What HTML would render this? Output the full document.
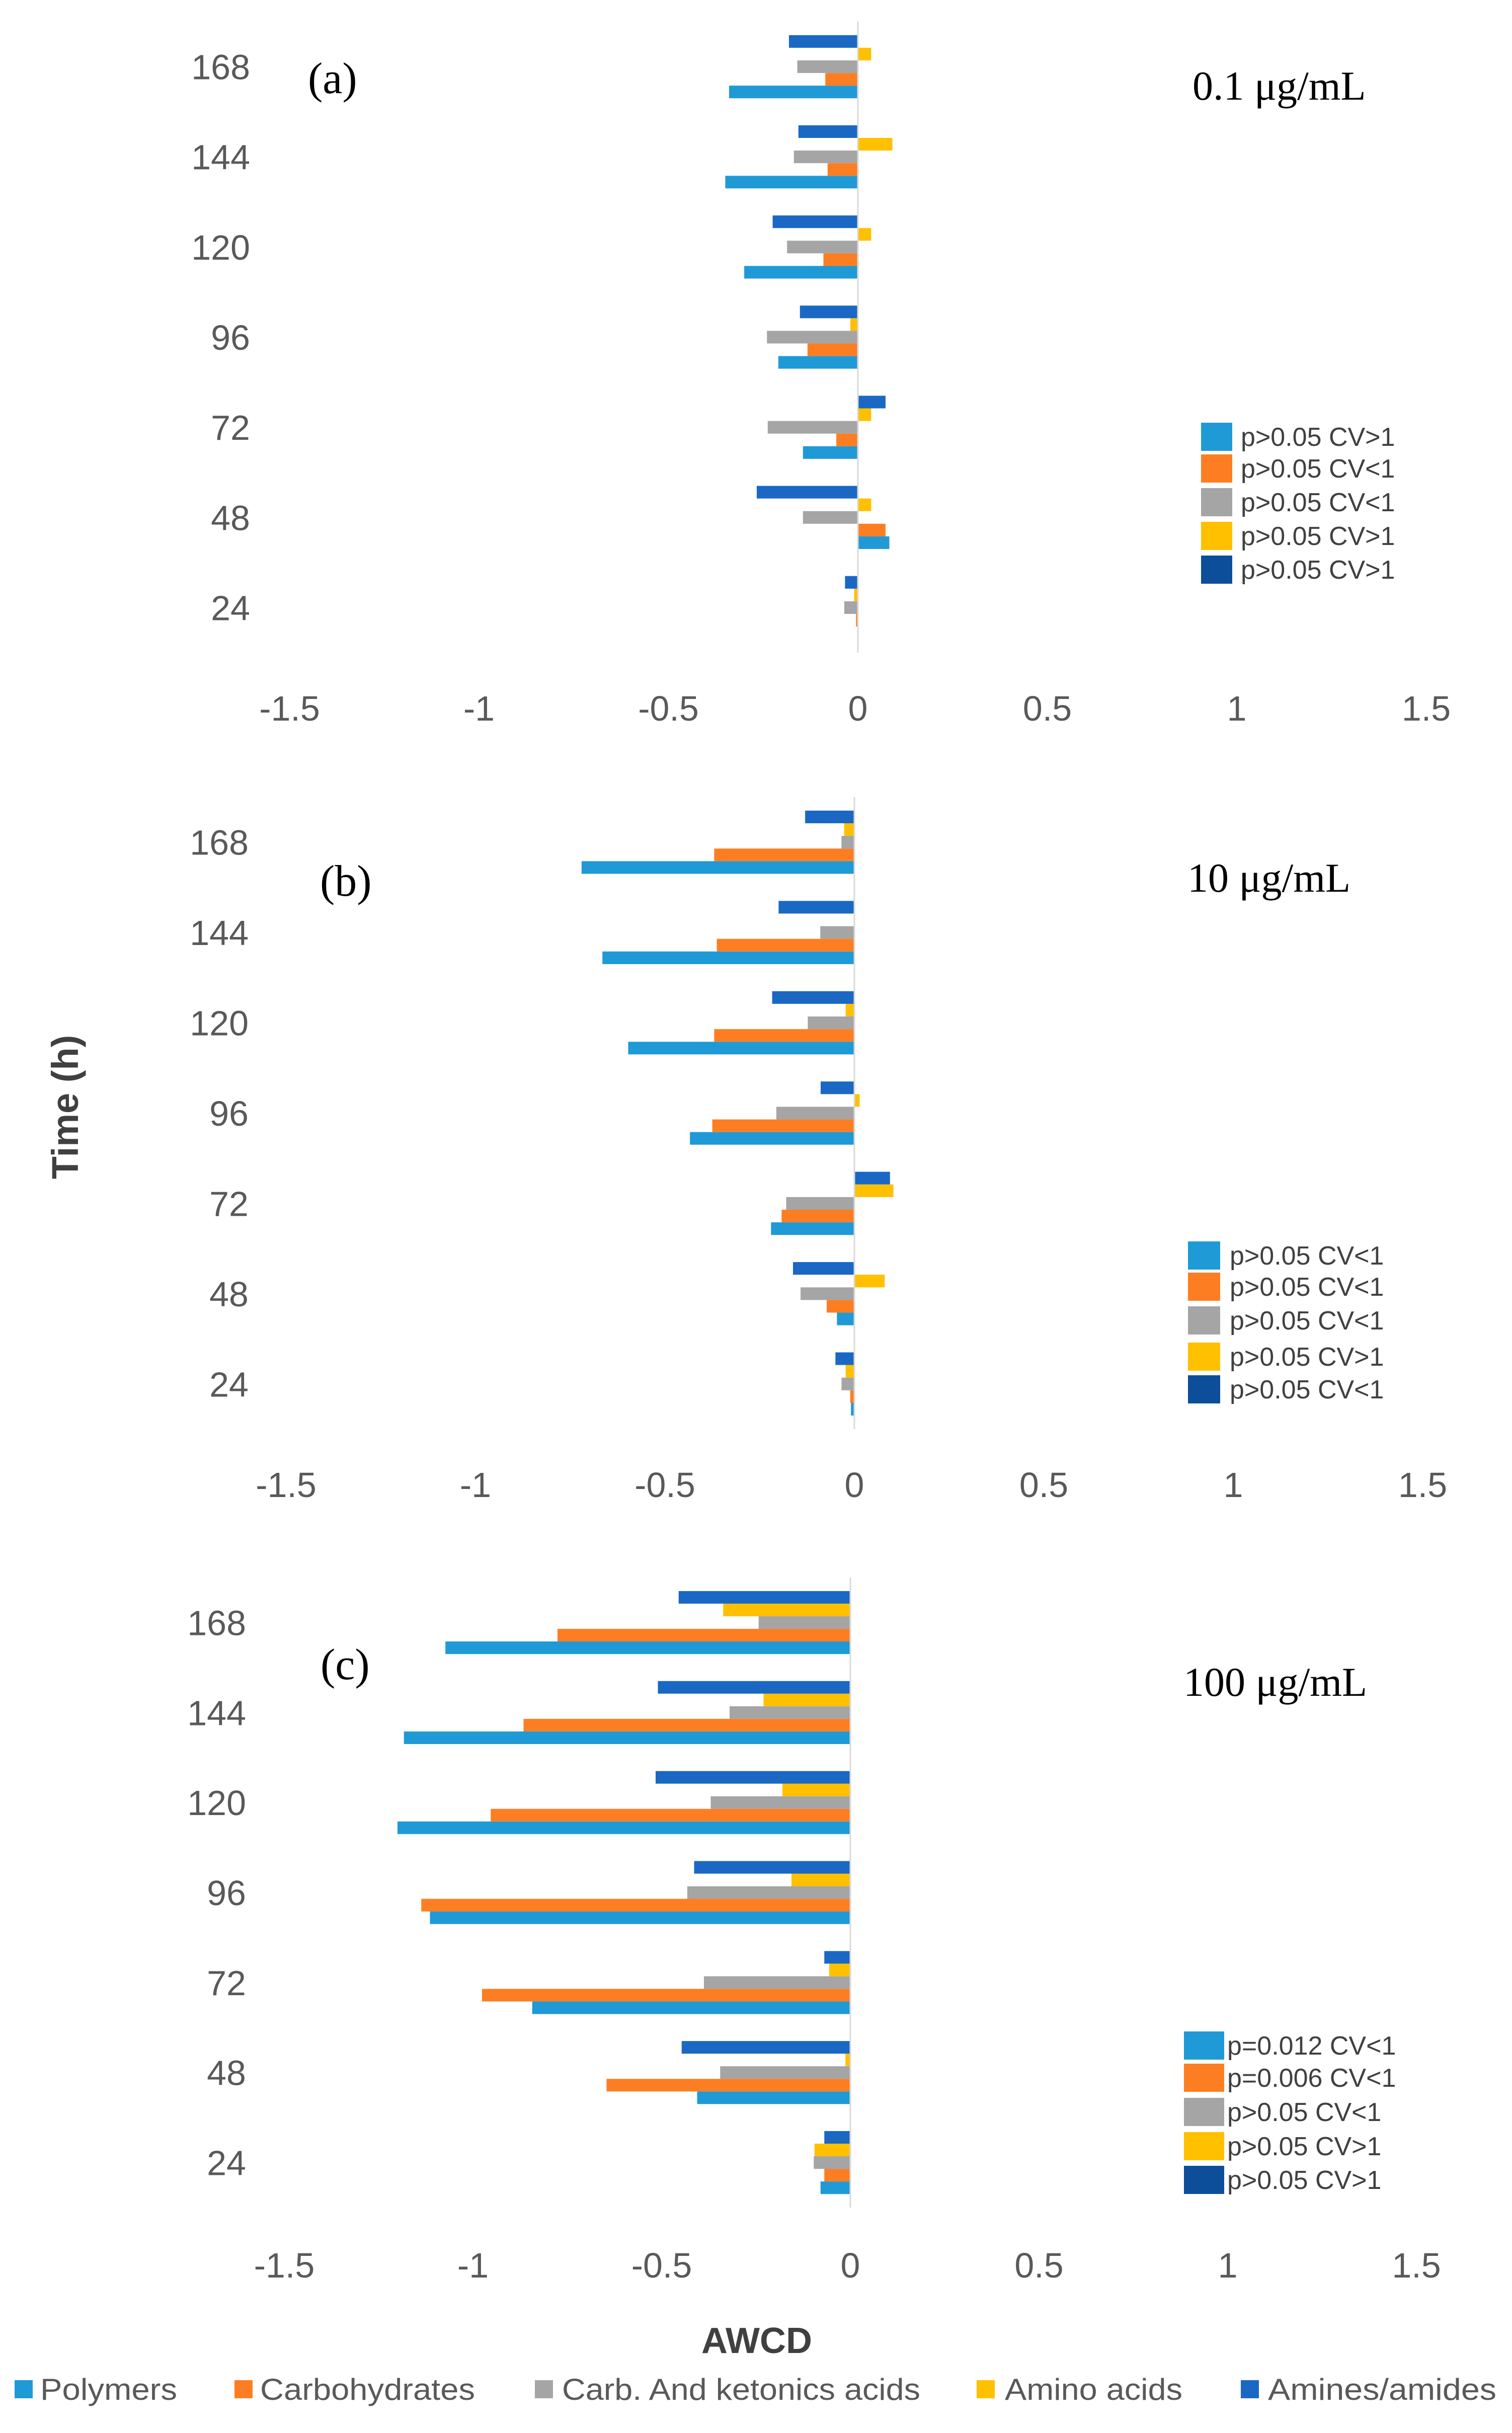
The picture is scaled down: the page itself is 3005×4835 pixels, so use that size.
<!DOCTYPE html>
<html>
<head>
<meta charset="utf-8">
<style>
html,body{margin:0;padding:0;background:#fff;}
svg{display:block;}
</style>
</head>
<body>
<svg id="chart" width="3005" height="4835" viewBox="0 0 3005 4835" xmlns="http://www.w3.org/2000/svg">
<text x="0" y="0" transform="translate(155,2200) rotate(-90)" text-anchor="middle" font-family="Liberation Sans, sans-serif" font-weight="bold" font-size="74" fill="#404040">Time (h)</text>
<text x="1504" y="4676" text-anchor="middle" font-family="Liberation Sans, sans-serif" font-weight="bold" font-size="72" fill="#404040">AWCD</text>
<g id="legend-bottom"></g>
</svg>
<script>
const categories = ["24", "48", "72", "96", "120", "144", "168"];
const seriesNames = ["Polymers", "Carbohydrates", "Carb. And ketonics acids", "Amino acids", "Amines/amides"];
const xTicks = [-1.5, -1, -0.5, 0, 0.5, 1, 1.5];
const xTickLabels = ["-1.5", "-1", "-0.5", "0", "0.5", "1", "1.5"];

const aPolymers      = [0.00, 0.083, -0.145, -0.21, -0.30, -0.35, -0.34];
const aCarbohydrates = [-0.005, 0.073, -0.057, -0.133, -0.091, -0.08, -0.086];
const aCarbKetonic   = [-0.036, -0.145, -0.238, -0.24, -0.187, -0.169, -0.16];
const aAminoAcids    = [-0.01, 0.035, 0.035, -0.02, 0.035, 0.091, 0.035];
const aAmines        = [-0.034, -0.267, 0.073, -0.153, -0.225, -0.157, -0.182];

const bPolymers      = [-0.009, -0.046, -0.22, -0.434, -0.597, -0.665, -0.72];
const bCarbohydrates = [-0.011, -0.073, -0.192, -0.375, -0.37, -0.363, -0.37];
const bCarbKetonic   = [-0.034, -0.142, -0.18, -0.206, -0.123, -0.09, -0.034];
const bAminoAcids    = [-0.023, 0.08, 0.103, 0.014, -0.023, 0.0, -0.027];
const bAmines        = [-0.05, -0.162, 0.094, -0.089, -0.217, -0.2, -0.13];

const cPolymers      = [-0.079, -0.406, -0.843, -1.114, -1.2, -1.183, -1.073];
const cCarbohydrates = [-0.069, -0.646, -0.976, -1.137, -0.953, -0.866, -0.776];
const cCarbKetonic   = [-0.097, -0.345, -0.388, -0.432, -0.37, -0.32, -0.243];
const cAminoAcids    = [-0.095, -0.013, -0.056, -0.156, -0.18, -0.23, -0.337];
const cAmines        = [-0.069, -0.447, -0.069, -0.414, -0.516, -0.51, -0.455];

const aLegendLabels = ["p>0.05 CV>1", "p>0.05 CV<1", "p>0.05 CV<1", "p>0.05 CV>1", "p>0.05 CV>1"];
const bLegendLabels = ["p>0.05 CV<1", "p>0.05 CV<1", "p>0.05 CV<1", "p>0.05 CV>1", "p>0.05 CV<1"];
const cLegendLabels = ["p=0.012 CV<1", "p=0.006 CV<1", "p>0.05 CV<1", "p>0.05 CV>1", "p>0.05 CV>1"];

const colors = ["#1f9ad6", "#fd7e22", "#a5a5a5", "#ffc000", "#1a68c4"];
const legendColors = ["#1f9ad6", "#fd7e22", "#a5a5a5", "#ffc000", "#0d4e9a"];
const NS = "http://www.w3.org/2000/svg";
const svg = document.getElementById("chart");

function mk(tag, attrs, parent) {
  const el = document.createElementNS(NS, tag);
  for (const k in attrs) el.setAttribute(k, attrs[k]);
  (parent || svg).appendChild(el);
  return el;
}

const panels = [
  {id: "a", series: [aPolymers, aCarbohydrates, aCarbKetonic, aAminoAcids, aAmines], legend: aLegendLabels,
   zero: 1705, unit: 753, top: 43, bottom: 1297, tickY: 1432, labelRight: 497,
   tag: "(a)", tagX: 612, tagY: 185, conc: "0.1 μg/mL", concX: 2370, concY: 198,
   legX: 2387, legTextX: 2466, legRows: [868, 931, 998, 1065, 1132], legSq: 62},
  {id: "b", series: [bPolymers, bCarbohydrates, bCarbKetonic, bAminoAcids, bAmines], legend: bLegendLabels,
   zero: 1698, unit: 753, top: 1584, bottom: 2840, tickY: 2975, labelRight: 494,
   tag: "(b)", tagX: 636, tagY: 1780, conc: "10 μg/mL", concX: 2360, concY: 1772,
   legX: 2361, legTextX: 2444, legRows: [2495, 2557, 2624, 2696, 2761], legSq: 64},
  {id: "c", series: [cPolymers, cCarbohydrates, cCarbKetonic, cAminoAcids, cAmines], legend: cLegendLabels,
   zero: 1690, unit: 750, top: 3135, bottom: 4387, tickY: 4526, labelRight: 489,
   tag: "(c)", tagX: 637, tagY: 3337, conc: "100 μg/mL", concX: 2352, concY: 3370,
   legX: 2353, legTextX: 2439, legRows: [4065, 4129, 4197, 4265, 4332], legSq: 80}
];

panels.forEach(function (p) {
  const g = mk("g", {});
  
  
  const xScale = function (v) { return p.zero + v * p.unit; };
  const band = (p.bottom - p.top) / categories.length;
  const barH = band * 0.14;
  const yCenter = function (i) { return p.bottom - (i + 0.5) * band; };

  p.series.forEach(function (vals, s) {
    vals.forEach(function (v, i) {
      const x0 = xScale(Math.min(0, v)), w = Math.abs(xScale(v) - xScale(0));
      const y = yCenter(i) + (1.5 - s) * barH;
      const r = mk("rect", {x: x0, y: y, width: Math.max(w, 0.01), height: barH, fill: colors[s]}, g);
      
      
    });
  });

  const ax = mk("line", {x1: xScale(0), x2: xScale(0), y1: p.top, y2: p.bottom, stroke: "#d9d9d9", "stroke-width": 3}, g);
  
  

  categories.forEach(function (c, i) {
    const t = mk("text", {x: p.labelRight, y: yCenter(i) + 25, "text-anchor": "end", "font-family": "Liberation Sans, sans-serif", "font-size": 70, fill: "#595959"}, g);
    t.textContent = c;
    
    
  });

  xTicks.forEach(function (v, i) {
    const t = mk("text", {x: xScale(v), y: p.tickY, "text-anchor": "middle", "font-family": "Liberation Sans, sans-serif", "font-size": 70, fill: "#595959"}, g);
    t.textContent = xTickLabels[i];
    
    
  });

  const tg = mk("text", {x: p.tagX, y: p.tagY, "font-family": "Liberation Serif, serif", "font-size": 88, fill: "#000"}, g);
  tg.textContent = p.tag;
  
  
  const cc = mk("text", {x: p.concX, y: p.concY, "font-family": "Liberation Serif, serif", "font-size": 82, fill: "#000"}, g);
  cc.textContent = p.conc;
  
  

  p.legend.forEach(function (lab, k) {
    const cy = p.legRows[k];
    const sq = mk("rect", {x: p.legX, y: cy - 28, width: p.legSq, height: 56, fill: legendColors[k]}, g);
    
    
    const t = mk("text", {x: p.legTextX, y: cy + 18, "font-family": "Liberation Sans, sans-serif", "font-size": 52, fill: "#404040"}, g);
    t.textContent = lab;
    
    
  });
});

const legG = document.getElementById("legend-bottom");
const legSqX = [29, 466, 1063, 1941, 2466];
const legTxX = [80, 517, 1117, 1997, 2520];
const legTxW = [272, 427, 712, 353, 454];
seriesNames.forEach(function (n, k) {
  const sq = mk("rect", {x: legSqX[k], y: 4730, width: 36, height: 36, fill: colors[k]}, legG);
  
  
  const t = mk("text", {x: legTxX[k], y: 4769, "font-family": "Liberation Sans, sans-serif", "font-size": 60, fill: "#595959", textLength: legTxW[k], lengthAdjust: "spacingAndGlyphs"}, legG);
  t.textContent = n;
  
  
});
</script>
</body>
</html>
